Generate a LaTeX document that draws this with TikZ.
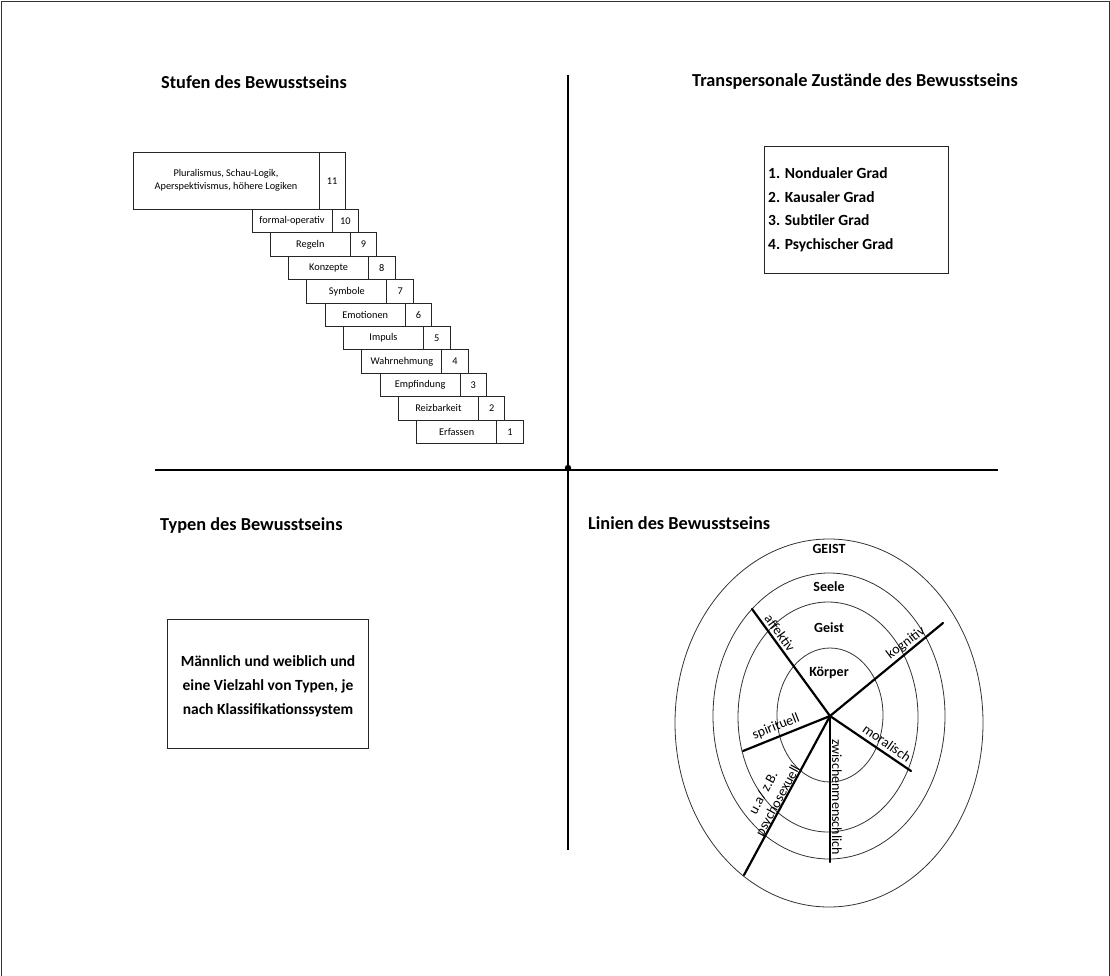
\documentclass[tikz,border=0pt]{standalone}
\usepackage{fontspec}
\setmainfont{Carlito}
\begin{document}
\begin{tikzpicture}[x=1pt,y=-1pt,
  thin box/.style={draw=black!85, line width=0.9pt, rectangle, inner sep=0pt, outer sep=0pt, anchor=north west},
  stepfont/.style={font=\fontsize{10.3}{12}\selectfont},
  titlefont/.style={font=\bfseries\fontsize{18.3}{22}\selectfont, anchor=west, inner sep=0pt},
  bigtext/.style={font=\bfseries\fontsize{15.5}{23.5}\selectfont},
  axis/.style={line width=2.8pt, black},
  ring/.style={line width=0.8pt, black!80},
  spoke/.style={line width=2.2pt, black},
  spokelabel/.style={font=\fontsize{14}{14}\selectfont, inner sep=0pt},
  ringlabel/.style={font=\bfseries\fontsize{14}{14}\selectfont, inner sep=0pt}]
\useasboundingbox (0,0) rectangle (1110,976);
% frame
\coordinate (fbl) at (1,976);
\coordinate (ftl) at (1,1);
\coordinate (ftr) at (1109,1);
\coordinate (fbr) at (1109,976);
\draw[line width=0.9pt, black!80] (fbl) -- (ftl) -- (ftr) -- (fbr);

% axes
\coordinate (vtop) at (568,75);
\coordinate (vbot) at (568,850);
\coordinate (hl) at (155,470);
\coordinate (hr) at (998,470);
\draw[axis] (vtop) -- (vbot);
\draw[axis] (hl) -- (hr);
\fill (568,468) circle (3.2);

% titles
\node[titlefont] (t1) at (161,82) {Stufen des Bewusstseins};
\node[titlefont] (t2) at (692,82) {Transpersonale Zustände des Bewusstseins};
\node[titlefont] (t3) at (160,526) {Typen des Bewusstseins};
\node[titlefont] (t4) at (588,523) {Linien des Bewusstseins};

% staircase
\node[thin box, minimum width=186, minimum height=57.5, stepfont, align=center] (s11) at (133,152) {Pluralismus, Schau-Logik,\\[1pt]Aperspektivismus, höhere Logiken};
\node[thin box, minimum width=26, minimum height=57.5, stepfont] (n11) at (319,152) {11};
\foreach \lab/\num [count=\k from 0] in {formal-operativ/10,Regeln/9,Konzepte/8,Symbole/7,Emotionen/6,Impuls/5,Wahrnehmung/4,Empfindung/3,Reizbarkeit/2,Erfassen/1}{
  \pgfmathsetmacro{\lx}{252+\k*18.3}
  \pgfmathsetmacro{\ty}{209.5+\k*23.4}
  \node[thin box, minimum width=80, minimum height=23.4, stepfont] (s\num) at (\lx,\ty) {\lab};
  \node[thin box, minimum width=26.5, minimum height=23.4, stepfont] (n\num) at (\lx+80,\ty) {\num};
}

% states box
\node[thin box, minimum width=184, minimum height=127] (zbox) at (764,146) {};
\node[bigtext, anchor=west, align=left, inner sep=0pt] (ztext) at (768,210) {1. Nondualer Grad\\2. Kausaler Grad\\3. Subtiler Grad\\4. Psychischer Grad};

% types box
\node[thin box, minimum width=201, minimum height=129] (tbox) at (167,619) {};
\node[bigtext, align=center, inner sep=0pt, font=\bfseries\fontsize{15.5}{24}\selectfont] (ttext) at (268,686) {Männlich und weiblich und\\eine Vielzahl von Typen, je\\nach Klassifikationssystem};

% rings
\draw[ring] (829,723) ellipse [x radius=154, y radius=184];
\draw[ring] (829,716) ellipse [x radius=116, y radius=143];
\draw[ring] (828,717) ellipse [x radius=90, y radius=115];
\draw[ring] (830,715) ellipse [x radius=53, y radius=67];

% spokes
\coordinate (hub) at (830,716);
\coordinate (eaff) at (752,609);
\coordinate (ekog) at (943,623);
\coordinate (espi) at (743,751);
\coordinate (emor) at (911,771);
\coordinate (ezwi) at (830,862);
\coordinate (epsy) at (744,875);
\foreach \e in {eaff,ekog,espi,emor,ezwi,epsy}{\draw[spoke, line cap=round] (hub) -- (\e);}

% ring labels
\node[ringlabel] (lgeist1) at (829,549) {GEIST};
\node[ringlabel] (lseele) at (829,587) {Seele};
\node[ringlabel] (lgeist2) at (829,628) {Geist};
\node[ringlabel] (lkoerper) at (829,673) {Körper};

% spoke labels
\node[spokelabel, rotate=-54] (laff) at (780,633) {affektiv};
\node[spokelabel, rotate=37] (lkog) at (906,643) {kognitiv};
\node[spokelabel, rotate=21.6] (lspi) at (776,727) {spirituell};
\node[spokelabel, rotate=-35] (lmor) at (887,743) {moralisch};
\node[spokelabel, rotate=-90] (lzwi) at (837,797) {zwischenmenschlich};
\node[spokelabel, rotate=61.6, align=center, font=\fontsize{14}{16.5}\selectfont] (lpsy) at (771,797) {u.a/ z.B.\\psychosexuell};
\end{tikzpicture}
\end{document}
